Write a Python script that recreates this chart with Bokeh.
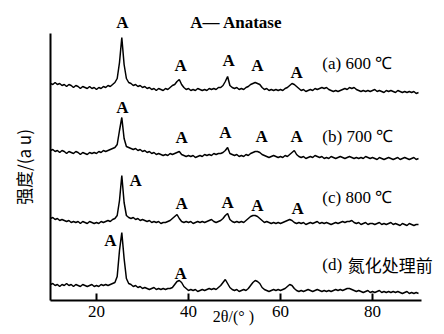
from bokeh.plotting import figure
from bokeh.models import Range1d, Label, FixedTicker, LinearAxis
from bokeh.embed import file_html
from bokeh.resources import INLINE

# 2θ sampling grid (degrees), 10 .. 90 in 0.5° steps
two_theta = [10 + 0.5 * i for i in range(161)]

# intensity (arbitrary units, traces stacked with offsets as in the figure)
trace_a = [
    217, 216, 218, 216, 217, 215, 216, 214, 216, 215,
    213, 215, 214, 212, 214, 213, 212, 214, 212, 213,
    211, 213, 212, 214, 213, 215, 214, 216, 218, 222,
    238, 263, 236, 222, 218, 217, 215, 216, 214, 215,
    213, 214, 212, 213, 211, 212, 210, 212, 211, 210,
    212, 211, 213, 215, 216, 219, 221, 216, 213, 211,
    212, 210, 211, 210, 212, 211, 210, 211, 210, 212,
    211, 212, 211, 213, 213, 215, 219, 224, 215, 213,
    212, 213, 211, 212, 211, 213, 214, 216, 217, 218,
    217, 216, 213, 211, 212, 210, 211, 210, 211, 210,
    211, 210, 212, 213, 215, 217, 216, 214, 212, 210,
    211, 209, 210, 211, 210, 212, 211, 212, 213, 212,
    213, 211, 210, 209, 210, 209, 210, 211, 212, 211,
    213, 212, 213, 211, 210, 209, 210, 209, 210, 209,
    210, 211, 209, 210, 209, 208, 210, 209, 210, 209,
    208, 210, 209, 208, 209, 208, 209, 208, 209, 207,
    208,
]
trace_b = [
    150, 151, 149, 150, 148, 150, 149, 147, 149, 148,
    147, 149, 148, 146, 148, 147, 146, 148, 147, 148,
    147, 149, 148, 150, 149, 150, 151, 152, 153, 156,
    170, 183, 162, 154, 153, 152, 151, 152, 150, 151,
    149, 150, 148, 149, 147, 148, 146, 147, 146, 145,
    146, 145, 147, 146, 147, 148, 149, 146, 145, 144,
    145, 144, 145, 143, 144, 145, 144, 146, 145, 146,
    145, 147, 146, 147, 147, 148, 150, 153, 147, 146,
    145, 146, 144, 145, 144, 146, 145, 147, 148, 149,
    149, 148, 146, 145, 144, 143, 144, 145, 144, 143,
    144, 143, 145, 144, 146, 148, 150, 146, 144, 143,
    144, 142, 143, 144, 143, 145, 144, 143, 144, 142,
    143, 142, 144, 143, 142, 143, 144, 143, 142, 143,
    144, 143, 142, 143, 142, 143, 142, 144, 143, 142,
    143, 142, 141, 143, 142, 141, 142, 143, 142, 141,
    142, 143, 141, 142, 143, 142, 141, 142, 143, 141,
    142,
]
trace_c = [
    82, 83, 81, 82, 80, 81, 80, 79, 80, 78,
    79, 78, 79, 77, 79, 78, 77, 79, 78, 77,
    78, 77, 79, 78, 79, 80, 79, 81, 82, 85,
    100, 125, 98, 85, 83, 82, 83, 81, 82, 80,
    81, 80, 79, 80, 78, 79, 78, 79, 77, 78,
    78, 79, 80, 82, 84, 86, 82, 79, 78, 79,
    78, 79, 77, 78, 79, 78, 79, 78, 79, 80,
    81, 79, 78, 79, 80, 82, 85, 87, 81, 79,
    78, 79, 78, 79, 78, 80, 82, 84, 85, 85,
    84, 82, 80, 78, 79, 78, 77, 78, 77, 78,
    77, 78, 79, 80, 81, 80, 78, 77, 78, 77,
    78, 76, 77, 78, 77, 78, 79, 77, 78, 77,
    78, 77, 76, 77, 78, 77, 78, 79, 78, 79,
    79, 80, 78, 77, 78, 76, 77, 78, 76, 77,
    77, 76, 77, 78, 76, 77, 76, 77, 78, 76,
    77, 76, 75, 77, 76, 75, 77, 76, 75, 76,
    76,
]
trace_d = [
    16, 17, 15, 16, 14, 16, 15, 17, 15, 16,
    14, 16, 15, 14, 16, 15, 14, 15, 16, 14,
    15, 14, 16, 15, 16, 15, 16, 17, 18, 24,
    50, 68, 42, 22, 17, 16, 14, 15, 13, 14,
    12, 13, 12, 11, 12, 13, 11, 12, 11, 12,
    11, 12, 12, 13, 16, 19, 20, 18, 14, 12,
    10, 11, 10, 11, 9, 10, 11, 10, 11, 12,
    11, 12, 11, 13, 15, 18, 21, 17, 13, 11,
    10, 11, 9, 10, 11, 10, 12, 15, 18, 20,
    19, 17, 13, 11, 10, 9, 10, 11, 10, 11,
    10, 11, 12, 14, 16, 15, 12, 10, 9, 10,
    9, 10, 11, 10, 9, 10, 11, 10, 9, 10,
    9, 10, 9, 10, 11, 10, 11, 10, 11, 12,
    12, 11, 10, 9, 10, 9, 8, 9, 10, 8,
    9, 8, 9, 10, 8, 9, 8, 9, 8, 9,
    8, 9, 8, 7, 8, 9, 7, 8, 7, 8,
    7,
]

x_ticks = [20, 40, 60, 80]
x_axis_extent = (10, 90.6)
y_axis_extent = (0, 267)

# peak markers "A"
peak_label_x = [25.65, 38.3, 48.7, 55.0, 63.5,
                25.65, 38.5, 48.0, 55.9, 63.5,
                28.5, 38.5, 48.5, 55.0, 63.7,
                23.0, 38.3]
peak_label_y = [278, 235, 240, 235, 228,
                193, 163, 168, 164, 164,
                120, 97, 98, 95, 92,
                60, 27]

sample_label_x = [69.1, 69.1, 69.1, 69.1]
sample_label_y = [237, 164, 103, 36]
sample_labels = ["(a) 600 ℃", "(b)  700 ℃", "(c) 800 ℃", "(d)"]

W, H = 436, 326
p = figure(width=W, height=H,
           x_range=Range1d(10 - 50 / 4.6, 10 + (W - 50) / 4.6),
           y_range=Range1d(-(H - 300), 300),
           x_axis_location=None, y_axis_location=None,
           output_backend="svg", toolbar_location=None,
           min_border_left=0, min_border_right=0,
           min_border_top=0, min_border_bottom=0)
p.outline_line_color = None
p.grid.visible = False
p.background_fill_color = "white"
p.border_fill_color = "white"

for tr in (trace_a, trace_b, trace_c, trace_d):
    p.line(two_theta, tr, line_color="black", line_width=1.5)

xa = LinearAxis(fixed_location=0, bounds=x_axis_extent)
xa.ticker = FixedTicker(ticks=x_ticks)
xa.major_tick_in = 7
xa.major_tick_out = 0
xa.minor_tick_in = 0
xa.minor_tick_out = 0
xa.major_tick_line_width = 2
xa.axis_line_width = 2
xa.major_label_text_font = "Liberation Serif"
xa.major_label_text_font_size = "17px"
xa.major_label_text_color = "black"
xa.major_label_standoff = 5
p.add_layout(xa, "below")

ya = LinearAxis(fixed_location=10, bounds=y_axis_extent)
ya.ticker = FixedTicker(ticks=[])
ya.major_tick_in = 0
ya.major_tick_out = 0
ya.minor_tick_in = 0
ya.minor_tick_out = 0
ya.axis_line_width = 2
ya.major_label_text_font_size = "0px"
ya.axis_label = "强度/(a u)"
ya.axis_label_text_font = "Noto Sans CJK SC"
ya.axis_label_text_font_size = "17px"
ya.axis_label_text_font_style = "normal"
ya.axis_label_text_color = "black"
ya.axis_label_standoff = 15
p.add_layout(ya, "left")

serif = "Liberation Serif"
for x, y in zip(peak_label_x, peak_label_y):
    p.add_layout(Label(x=x, y=y, text="A", text_font=serif,
                       text_font_size="17px", text_font_style="bold",
                       text_align="center", text_baseline="middle",
                       text_color="black"))

p.add_layout(Label(x=40.4, y=278, text="A— Anatase", text_font=serif,
                   text_font_size="17px", text_font_style="bold",
                   text_align="left", text_baseline="middle", text_color="black"))

for x, y, t in zip(sample_label_x, sample_label_y, sample_labels):
    p.add_layout(Label(x=x, y=y, text=t, text_font=serif,
                       text_font_size="17px", text_align="left",
                       text_baseline="middle", text_color="black"))

p.add_layout(Label(x=74.6, y=36, text="氮化处理前", text_font="Noto Sans CJK SC",
                   text_font_size="17px", text_align="left",
                   text_baseline="middle", text_color="black"))

p.add_layout(Label(x=50.2, y=-24, text="2θ/(°  )", text_font=serif,
                   text_font_size="16px", text_align="center",
                   text_baseline="bottom", text_color="black"))

open("out.html", "w").write(file_html(p, INLINE))
